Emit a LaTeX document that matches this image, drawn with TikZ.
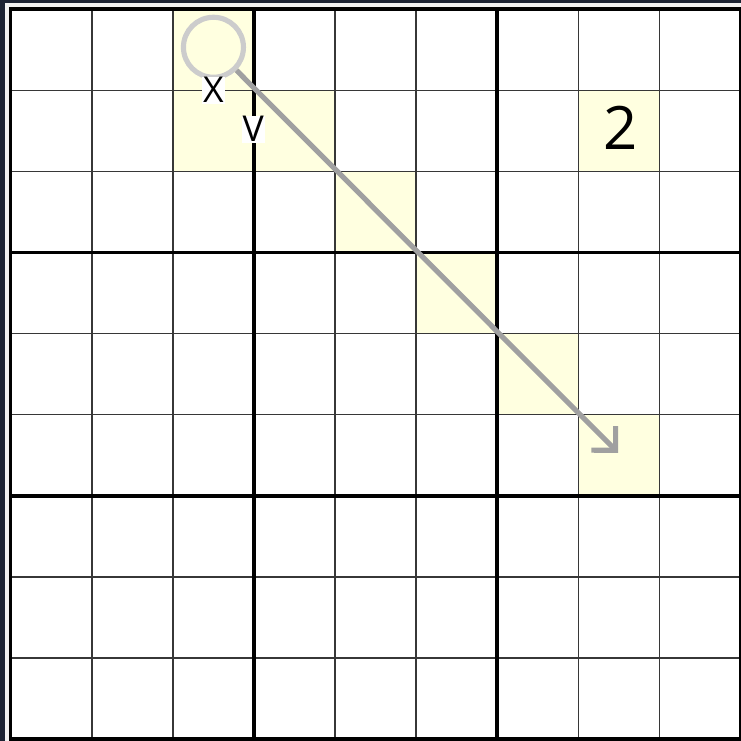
\documentclass[tikz,border=0pt]{standalone}
\usepackage{fontspec}
\setmainfont{Open Sans}
\usetikzlibrary{arrows.meta}
\definecolor{framebg}{HTML}{1B2232}
\definecolor{cellhl}{RGB}{255,255,224}
\definecolor{ringgray}{RGB}{204,204,204}
\definecolor{pathgray}{RGB}{160,160,160}
\definecolor{gridgray}{RGB}{55,55,55}

\begin{document}
\begin{tikzpicture}[
        x=1cm, y=-1cm,
        thingrid/.style={draw=gridgray, line width=0.5pt},
        boxline/.style={draw=black, line width=1.35pt},
        ring/.style={
            circle,
            draw=ringgray,
            fill=cellhl,
            line width=1.8pt,
            minimum size=0.74cm,
            inner sep=0pt
        },
        move/.style={
            draw=pathgray,
            line width=1.8pt,
            -{Straight Barb[length=6pt, width=12pt]}
        },
        axislabel/.style={fill=white, inner sep=0.3pt, font=\fontsize{12.5}{14}\selectfont},
        digit/.style={font=\fontsize{21}{25}\selectfont}
    ]

        % frame and background
        \fill[framebg] (-0.132,-0.113) rectangle (9.005,9.023);
        \useasboundingbox (-0.132,-0.113) rectangle (9.005,9.023);
        \fill[gray!12] (-0.070,-0.073) rectangle (9.005,9.023);
        \fill[white] (0,0) rectangle (9,9);

        % highlighted cells
        \foreach \c/\r in {2/0, 2/1, 3/1, 4/2, 5/3, 6/4, 7/5, 7/1}
            \fill[cellhl] (\c,\r) rectangle ++(1,1);

        \draw[thingrid] (0,0) grid (9,9);
        \foreach \k in {3,6} {
            \draw[boxline] (\k,0) -- (\k,9);
            \draw[boxline] (0,\k) -- (9,\k);
        }
        \draw[black, line width=1.2pt] (0,0) rectangle (9,9);

        \node[ring] (start) at (2.5,0.47) {};
        \coordinate (target) at (7.49,5.47);
        \draw[move] (start) -- (target);

        \node[axislabel] (xlab) at (2.5,1.0) {X};
        \node[axislabel] (ylab) at (2.99,1.48) {V};
        \node[digit] (given) at (7.52,1.465) {2};

    \end{tikzpicture}
\end{document}
